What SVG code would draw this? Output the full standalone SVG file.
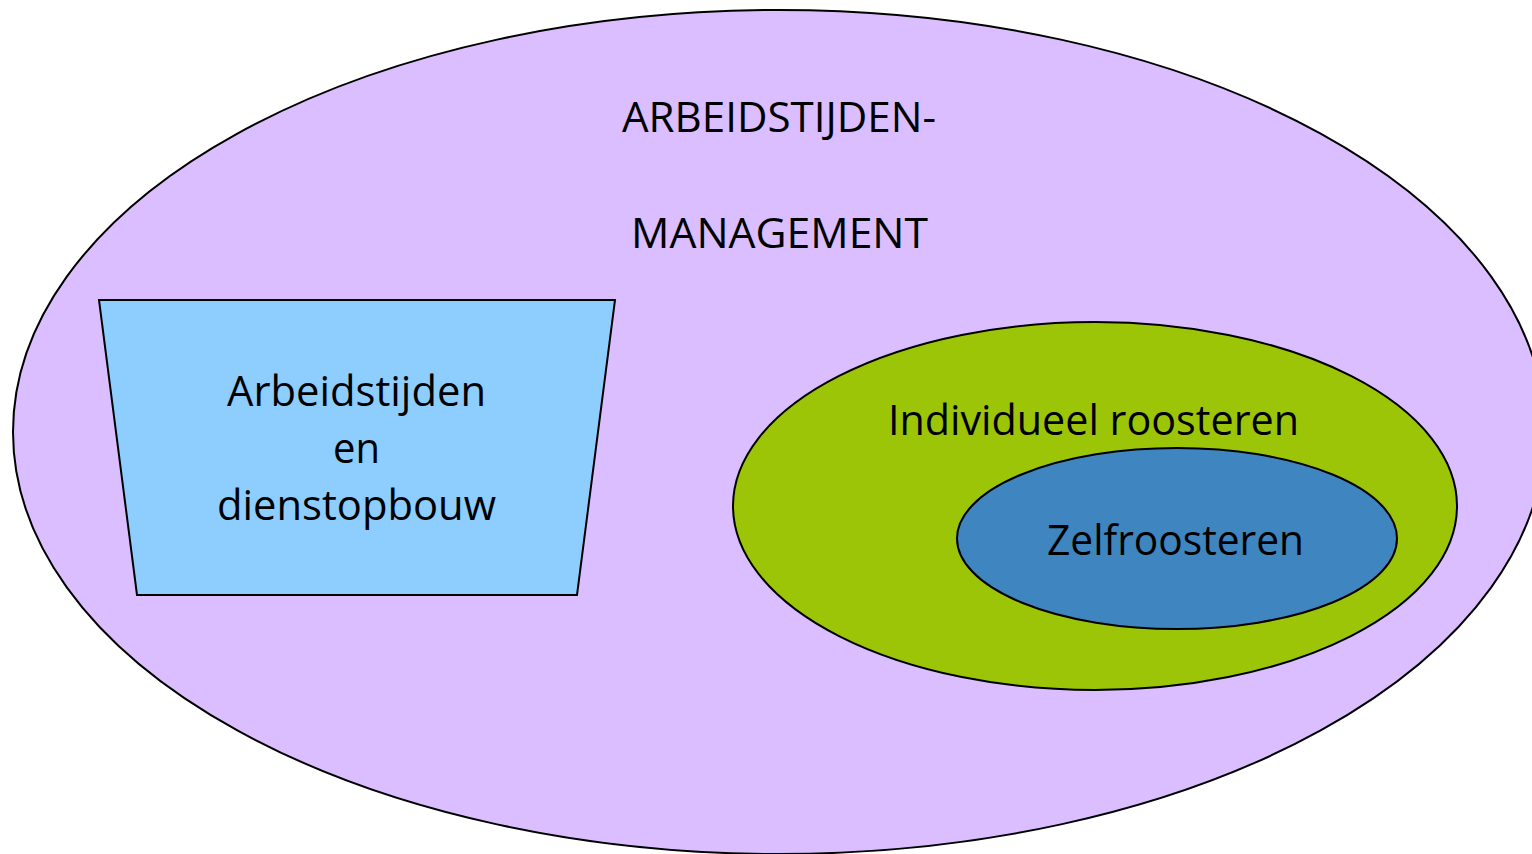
<svg xmlns="http://www.w3.org/2000/svg" width="1532" height="854" viewBox="0 0 1532 854">
<style>
.shape{stroke:#000;stroke-width:2}
.lbl{font-family:"Open Sans","Noto Sans","Liberation Sans",sans-serif;font-size:42px;fill:#000}
</style>
<rect width="1532" height="854" fill="#fff"/>
<g id="arbeidstijdenmanagement">
<ellipse class="shape" cx="779" cy="432" rx="766" ry="422" fill="#DABEFF"/>
<text class="lbl" x="622" y="132" textLength="314" lengthAdjust="spacingAndGlyphs">ARBEIDSTIJDEN-</text>
<text class="lbl" x="631" y="248" textLength="297" lengthAdjust="spacingAndGlyphs">MANAGEMENT</text>
</g>
<g id="arbeidstijden-dienstopbouw">
<polygon class="shape" points="99,300 615,300 577,595 137,595" fill="#8DCEFF" stroke-width="1.8"/>
<text class="lbl" x="227" y="406" textLength="259" lengthAdjust="spacingAndGlyphs">Arbeidstijden</text>
<text class="lbl" x="333" y="463" textLength="47" lengthAdjust="spacingAndGlyphs">en</text>
<text class="lbl" x="217" y="520" textLength="279" lengthAdjust="spacingAndGlyphs">dienstopbouw</text>
</g>
<g id="individueel-roosteren">
<ellipse class="shape" cx="1095" cy="506" rx="362" ry="184" fill="#9CC507" stroke-width="1.8"/>
<text class="lbl" x="888" y="435" textLength="411" lengthAdjust="spacingAndGlyphs">Individueel roosteren</text>
</g>
<g id="zelfroosteren">
<ellipse class="shape" cx="1177" cy="538.5" rx="220" ry="90.5" fill="#3F85BF" stroke-width="1.8"/>
<text class="lbl" x="1047" y="555" textLength="257" lengthAdjust="spacingAndGlyphs">Zelfroosteren</text>
</g>
<g id="connectors"/>
</svg>
